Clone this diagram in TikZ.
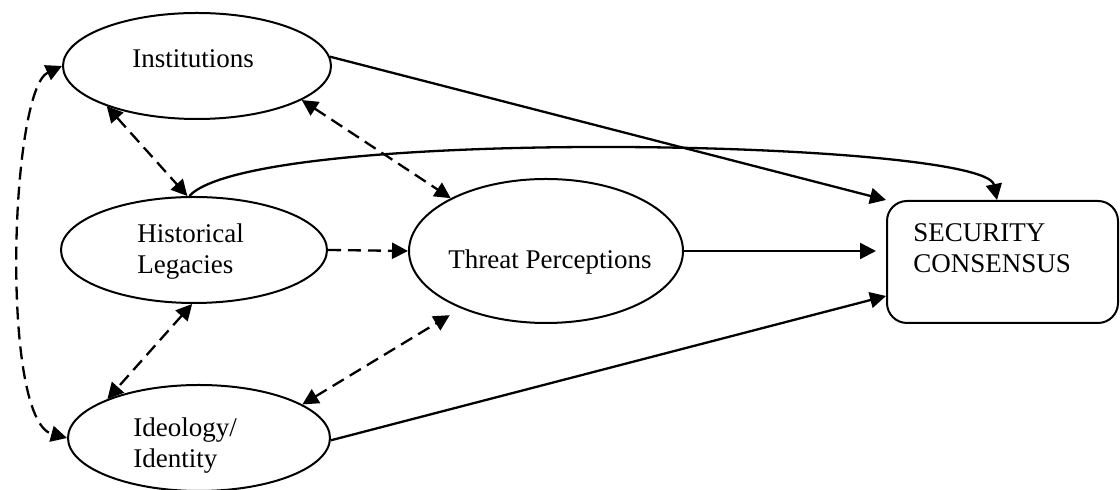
\documentclass[tikz,border=0pt]{standalone}
\usepackage{fontspec}
\setmainfont{Liberation Serif}
\usetikzlibrary{arrows.meta,shapes.geometric}
\begin{document}
\begin{tikzpicture}[x=0.5pt,y=-0.5pt,
  ell/.style={draw, ellipse, line width=1pt, inner sep=0pt},
  secbox/.style={draw, rectangle, rounded corners=10pt, line width=1pt, inner sep=0pt,
    minimum width=115.5pt, minimum height=61pt},
  lbl/.style={anchor=base west, inner sep=0pt, font=\fontsize{13.5}{15.5}\selectfont},
  conn/.style={line width=1.15pt},
  solidarr/.style={conn, -{Triangle[length=8pt,width=8pt]}},
  dasharr/.style={conn, dash pattern=on 6.5pt off 3.5pt, -{Triangle[length=8pt,width=8pt]}},
  dashdbl/.style={conn, dash pattern=on 6.5pt off 3.5pt, {Triangle[length=8pt,width=8pt]}-{Triangle[length=8pt,width=8pt]}}
]
\useasboundingbox (0,0) rectangle (1120,490);

% shapes
\node[ell, minimum width=134pt, minimum height=53pt] (inst) at (197,66) {};
\node[ell, minimum width=133pt, minimum height=53pt] (hist) at (194,250) {};
\node[ell, minimum width=131pt, minimum height=53pt] (ideo) at (199,438) {};
\node[ell, minimum width=137pt, minimum height=72pt] (thr) at (546,251) {};
\node[secbox] (sec) at (1002.5,262) {};

% texts
\node[lbl] (tInst) at (132,68) {Institutions};
\node[lbl] (tHist) at (137,243) {\begin{tabular}[t]{@{}l@{}}Historical\\Legacies\end{tabular}};
\node[lbl] (tIdeo) at (133,437) {\begin{tabular}[t]{@{}l@{}}Ideology/\\Identity\end{tabular}};
\node[lbl] (tThr) at (448,269) {Threat Perceptions};
\node[lbl] (tSec) at (913,242) {\begin{tabular}[t]{@{}l@{}}SECURITY\\CONSENSUS\end{tabular}};

% solid arrows to the consensus box
\draw[solidarr] (inst.4) -- (sec.north west);
\draw[solidarr] (hist.95) .. controls (255,125) and (985,140) .. ([xshift=-2.75pt]sec.north);
\draw[solidarr, shorten >=5pt] (thr.east) -- (thr.east -| sec.west);
\draw[solidarr] (ideo.-1) -- ([yshift=-17pt]sec.west);

% dashed arrows
\draw[dasharr] (hist.east) -- (thr.west);
\draw[dashdbl] (inst.204) -- (hist.97);
\draw[dashdbl] (inst.-18.6) -- (thr.151);
\draw[dashdbl] (hist.268) -- (ideo.157.6);
\draw[dashdbl, shorten >=6.5pt] (ideo.18.4) -- (thr.214.5);
\draw[dashdbl] (inst.west) .. controls (10,90) and (0,420) .. (ideo.west);
\end{tikzpicture}
\end{document}
